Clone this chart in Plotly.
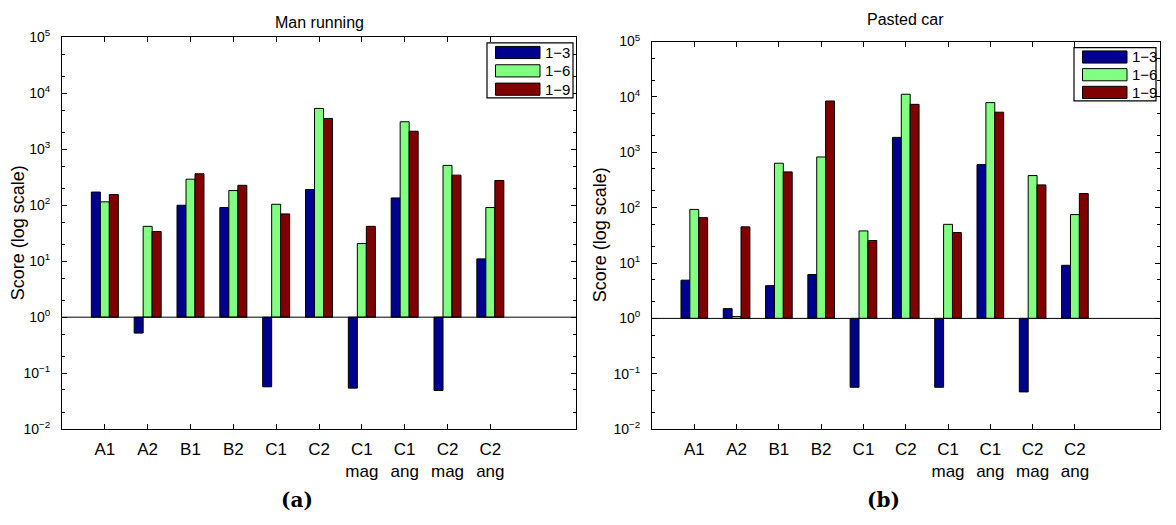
import plotly.graph_objects as go

W, H = 1176, 525

categories = ["A1", "A2", "B1", "B2", "C1", "C2",
              "C1<br>mag", "C1<br>ang", "C2<br>mag", "C2<br>ang"]
series_names = ["1\u22123", "1\u22126", "1\u22129"]
colors = ["#00008F", "#80FF80", "#800000"]

# Man running
man_13 = [172, 0.52, 100, 91, 0.057, 191, 0.054, 135, 0.049, 11]
man_16 = [115, 42, 292, 183, 104, 5370, 20.7, 3100, 515, 91]
man_19 = [155, 34, 365, 227, 70, 3550, 42, 2100, 345, 277]

# Pasted car
car_13 = [4.9, 1.5, 3.9, 6.2, 0.057, 1860, 0.057, 600, 0.047, 9.1]
car_16 = [93, 1.08, 635, 824, 38, 11200, 50, 7900, 380, 75]
car_19 = [66, 45, 443, 8450, 25.5, 7350, 35.5, 5300, 258, 180]

panels = [
    ("Man running", "(a)", [man_13, man_16, man_19]),
    ("Pasted car", "(b)", [car_13, car_16, car_19]),
]

y_tick_exp = [-2, -1, 0, 1, 2, 3, 4, 5]
y_tick_vals = [10.0 ** e for e in y_tick_exp]
y_tick_text = ["10<sup>%s</sup>" % str(e).replace("-", "\u2212") for e in y_tick_exp]

positions = list(range(1, len(categories) + 1))

# plot areas in pixels: (left, right, top, bottom)
areas = [(62, 576, 28.3, 434), (652, 1159.5, 32.7, 434)]
legend_boxes = [(487, 573, 34, 91), (1074, 1156, 39, 94)]
title_y = [13, 10]
ylabel_offset = [44, 52]

FONT = "Liberation Sans, Arial, sans-serif"


def px(x):
    return x / W


def py(y):
    return 1 - y / H


fig = go.Figure()
shapes = []
annotations = []

for i, (title, tag, series) in enumerate(panels):
    xa = "x" if i == 0 else "x2"
    ya = "y" if i == 0 else "y2"
    for name, vals, col in zip(series_names, series, colors):
        # bars grow from a baseline of 1 up or down to each value
        fig.add_trace(go.Bar(
            x=positions, y=[v - 1 for v in vals], base=1,
            name=name, marker=dict(color=col, line=dict(color="black", width=1)),
            showlegend=False, xaxis=xa, yaxis=ya,
            customdata=vals, hovertemplate="%{customdata}<extra>" + name + "</extra>",
        ))
    # reference line at 10^0
    fig.add_trace(go.Scatter(
        x=[0, 12], y=[1, 1], mode="lines", line=dict(color="black", width=1),
        showlegend=False, hoverinfo="skip", xaxis=xa, yaxis=ya,
    ))

    l, r, t, b = areas[i]
    cx = (l + r) / 2
    annotations.append(dict(
        text=title, x=px(cx), y=py(title_y[i]), xref="paper", yref="paper",
        showarrow=False, font=dict(family=FONT, size=16, color="black"),
        xanchor="center", yanchor="middle",
    ))
    annotations.append(dict(
        text="Score (log scale)", x=px(l - ylabel_offset[i]), y=py((t + b) / 2),
        xref="paper", yref="paper", textangle=-90, showarrow=False,
        font=dict(family=FONT, size=18, color="black"),
        xanchor="center", yanchor="middle",
    ))
    annotations.append(dict(
        text="<b>%s</b>" % tag, x=px(cx - 22), y=py(507), xref="paper", yref="paper",
        showarrow=False, font=dict(family="DejaVu Serif, serif", size=20, color="black"),
        xanchor="center", yanchor="middle",
    ))

    # legend box
    lx0, lx1, ly0, ly1 = legend_boxes[i]
    shapes.append(dict(type="rect", xref="paper", yref="paper",
                       x0=px(lx0), x1=px(lx1), y0=py(ly0), y1=py(ly1),
                       line=dict(color="black", width=1.2), fillcolor="white", layer="above"))
    row_h = (ly1 - ly0) / 3
    for k, (name, col) in enumerate(zip(series_names, colors)):
        yc = ly0 + row_h * (k + 0.5) + 0.5
        shapes.append(dict(type="rect", xref="paper", yref="paper",
                           x0=px(lx0 + 8.5), x1=px(lx0 + 53), y0=py(yc - 6.3), y1=py(yc + 6.3),
                           line=dict(color="black", width=1), fillcolor=col, layer="above"))
        annotations.append(dict(
            text=name, x=px(lx0 + 56), y=py(yc), xref="paper", yref="paper",
            showarrow=False, font=dict(family=FONT, size=15, color="black"),
            xanchor="left", yanchor="middle",
        ))

common_x = dict(
    range=[0, 12], tickmode="array", tickvals=positions, ticktext=categories,
    ticks="inside", ticklen=5, tickcolor="black", showline=True, linecolor="black",
    linewidth=1, mirror="ticks", showgrid=False, zeroline=False,
    tickfont=dict(family=FONT, size=17, color="black"), ticklabelstandoff=4,
)
common_y = dict(
    type="log", range=[-2, 5], tickmode="array", tickvals=y_tick_vals, ticktext=y_tick_text,
    ticks="inside", ticklen=5, tickcolor="black", showline=True, linecolor="black",
    linewidth=1, mirror="ticks", showgrid=False, zeroline=False,
    tickfont=dict(family=FONT, size=14, color="black"), ticklabelstandoff=8,
    minor=dict(ticks="inside", ticklen=3, tickcolor="black", showgrid=False),
)

la, lb = areas
fig.update_layout(
    width=W, height=H, margin=dict(l=0, r=0, t=0, b=0),
    paper_bgcolor="white", plot_bgcolor="white",
    barmode="group", bargap=0.37, bargroupgap=0.0,
    xaxis=dict(domain=[px(la[0]), px(la[1])], anchor="y", **common_x),
    yaxis=dict(domain=[py(la[3]), py(la[2])], anchor="x", **common_y),
    xaxis2=dict(domain=[px(lb[0]), px(lb[1])], anchor="y2", **common_x),
    yaxis2=dict(domain=[py(lb[3]), py(lb[2])], anchor="x2", **common_y),
    shapes=shapes, annotations=annotations, showlegend=False,
)

fig.write_html("out.html")
